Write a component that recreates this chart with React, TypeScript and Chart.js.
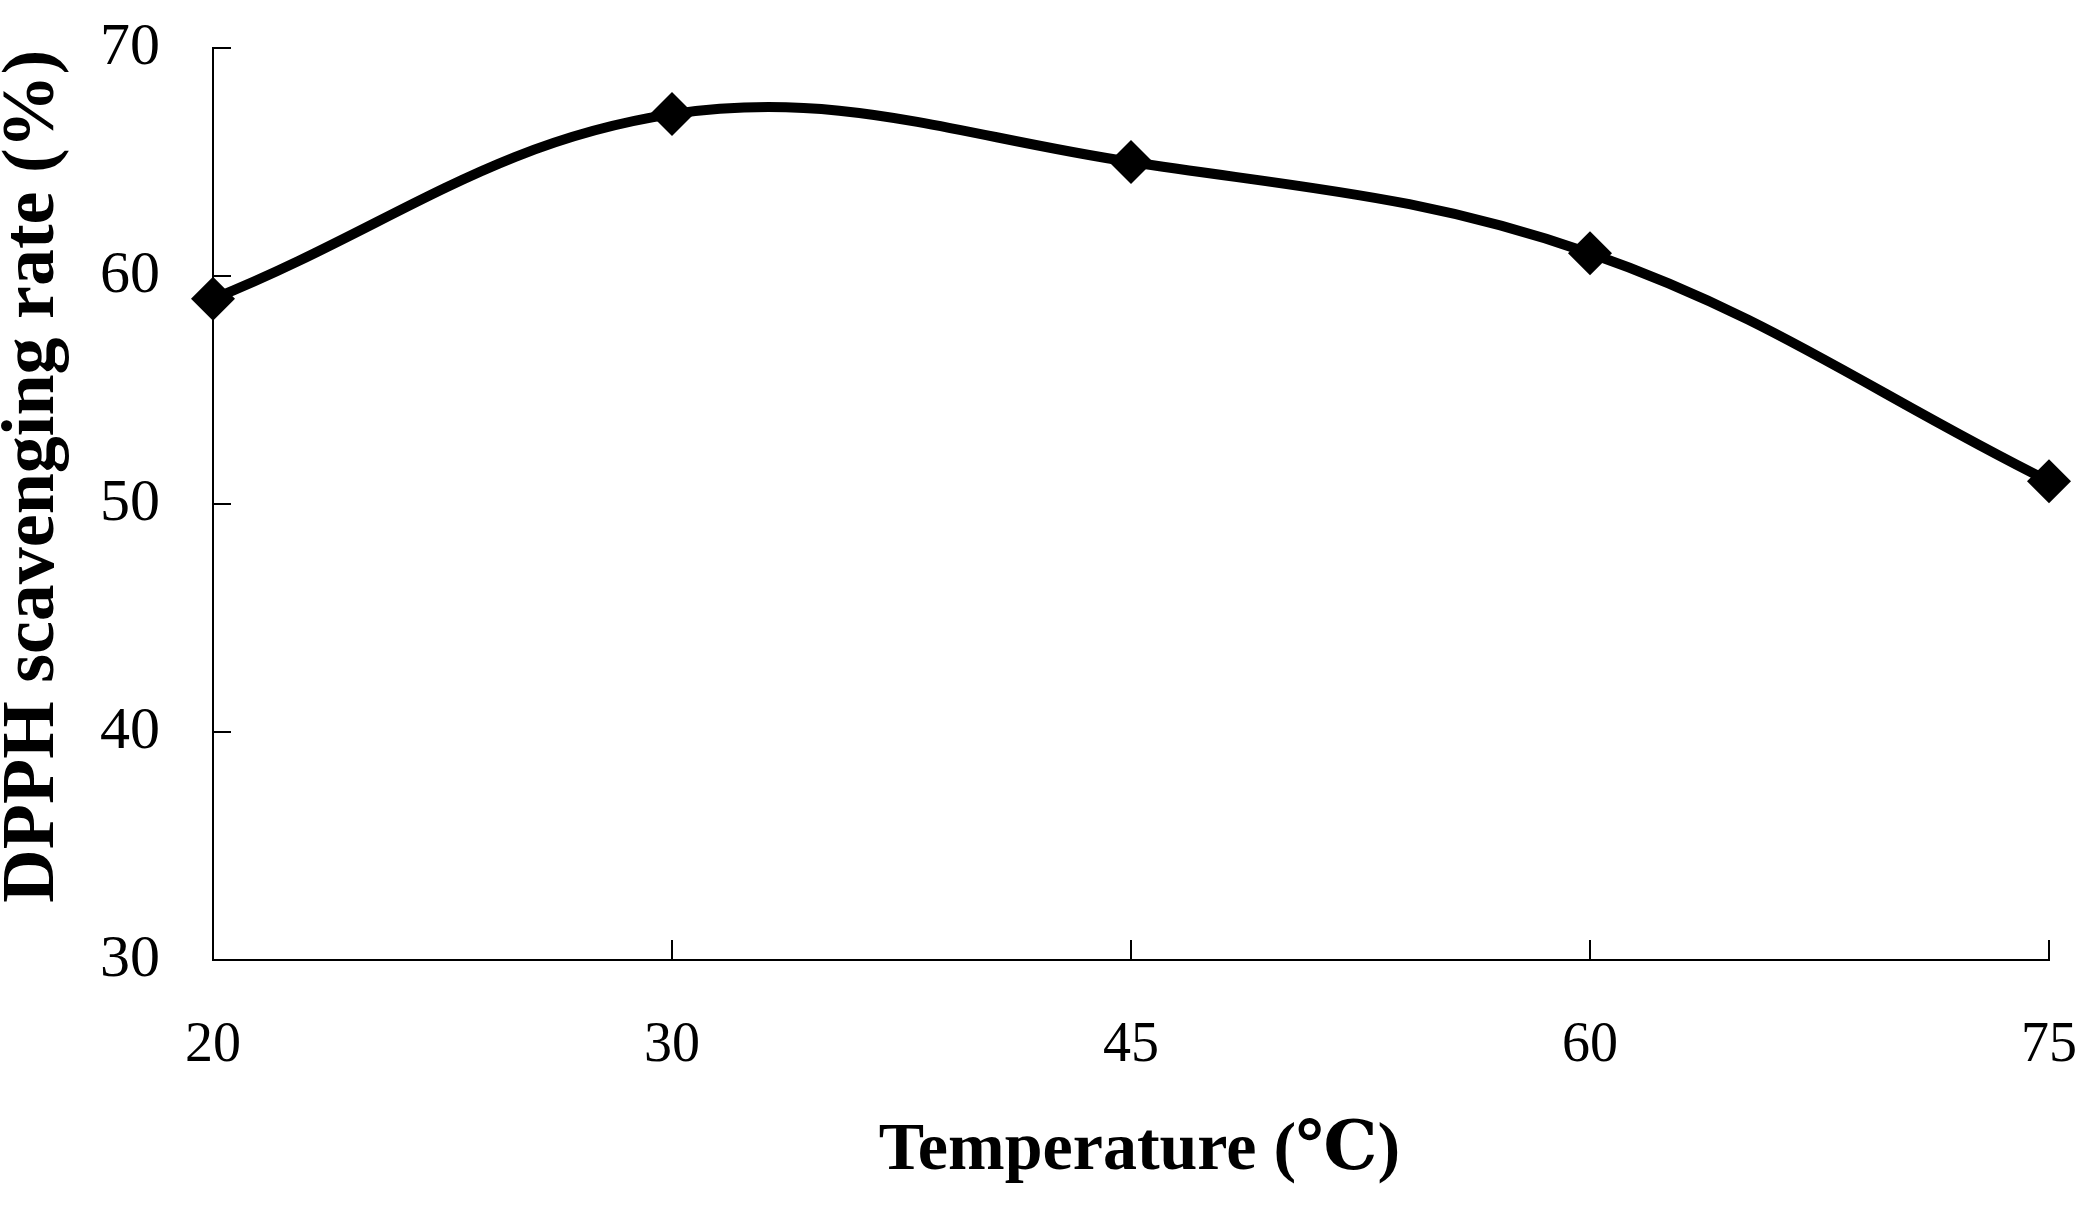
import React, { useEffect, useRef } from "react";
import { Chart, registerables } from "chart.js";

Chart.register(...registerables);

const categories: string[] = ["20", "30", "45", "60", "75"];
const scavengingRate: number[] = [59.0, 67.1, 65.0, 61.0, 51.0];
const yMin = 30;
const yMax = 70;
const yStep = 10;
const xTitle = " Temperature (℃)";
const yTitle = "   DPPH scavenging rate (%)";

const W = 2100;
const H = 1208;
const SERIF = "'Liberation Serif', 'DejaVu Serif', 'Noto Sans CJK SC', serif";

const innerTicks = {
  id: "innerTicks",
  afterDraw(chart: any) {
    const ctx = chart.ctx;
    const x = chart.scales.x;
    const y = chart.scales.y;
    ctx.save();
    ctx.strokeStyle = "#000";
    ctx.lineWidth = 2;
    ctx.beginPath();
    for (let i = 0; i < x.ticks.length; i++) {
      const px = x.getPixelForTick(i);
      ctx.moveTo(px, x.top);
      ctx.lineTo(px, x.top - 20);
    }
    for (let i = 0; i < y.ticks.length; i++) {
      const py = y.getPixelForTick(i);
      ctx.moveTo(y.right, py);
      ctx.lineTo(y.right + 18, py);
    }
    ctx.stroke();
    ctx.restore();
  },
};

export default function App() {
  const ref = useRef<HTMLCanvasElement | null>(null);
  useEffect(() => {
    document.body.style.margin = "0";
    const canvas = ref.current;
    if (!canvas) return;
    const chart = new Chart(canvas, {
      type: "line",
      data: {
        labels: categories,
        datasets: [
          {
            data: scavengingRate,
            borderColor: "#000",
            backgroundColor: "#000",
            borderWidth: 10,
            tension: 0.38,
            pointStyle: "rectRot",
            pointRadius: 22,
            pointHoverRadius: 22,
            pointBackgroundColor: "#000",
            pointBorderColor: "#000",
            pointBorderWidth: 0,
            clip: false as any,
          },
        ],
      },
      options: {
        animation: false,
        responsive: false,
        devicePixelRatio: 1,
        layout: { padding: { top: 48, right: 51, left: 0, bottom: 0 } },
        plugins: { legend: { display: false }, tooltip: { enabled: false } },
        scales: {
          x: {
            type: "category",
            offset: false,
            grid: {
              display: true,
              drawOnChartArea: false,
              drawTicks: true,
              tickLength: 53,
              tickColor: "rgba(0,0,0,0)",
            },
            border: { display: true, color: "#000", width: 2 },
            ticks: {
              color: "#000",
              padding: 0,
              maxRotation: 0,
              autoSkip: false,
              font: { family: SERIF, size: 56, weight: "normal" },
            },
            title: {
              display: true,
              text: xTitle,
              color: "#000",
              font: { family: SERIF, size: 68, weight: "bold", lineHeight: 1 },
              padding: { top: 0, bottom: 23 },
            },
            afterFit(scale: any) {
              scale.height = H - 960;
            },
          },
          y: {
            min: yMin,
            max: yMax,
            grid: {
              display: true,
              drawOnChartArea: false,
              drawTicks: true,
              tickLength: 53,
              tickColor: "rgba(0,0,0,0)",
            },
            border: { display: true, color: "#000", width: 2 },
            ticks: {
              stepSize: yStep,
              color: "#000",
              padding: 0,
              font: { family: SERIF, size: 60, weight: "normal" },
            },
            title: {
              display: true,
              text: yTitle,
              color: "#000",
              font: { family: SERIF, size: 74, weight: "bold", lineHeight: 0.92 },
              padding: { top: 0, bottom: 0 },
            },
            afterFit(scale: any) {
              scale.width = 213;
            },
          },
        },
      },
      plugins: [innerTicks],
    });
    return () => chart.destroy();
  }, []);
  return (
    <div style={{ width: W, height: H, background: "#fff" }}>
      <canvas ref={ref} width={W} height={H} style={{ display: "block", width: W, height: H }} />
    </div>
  );
}
